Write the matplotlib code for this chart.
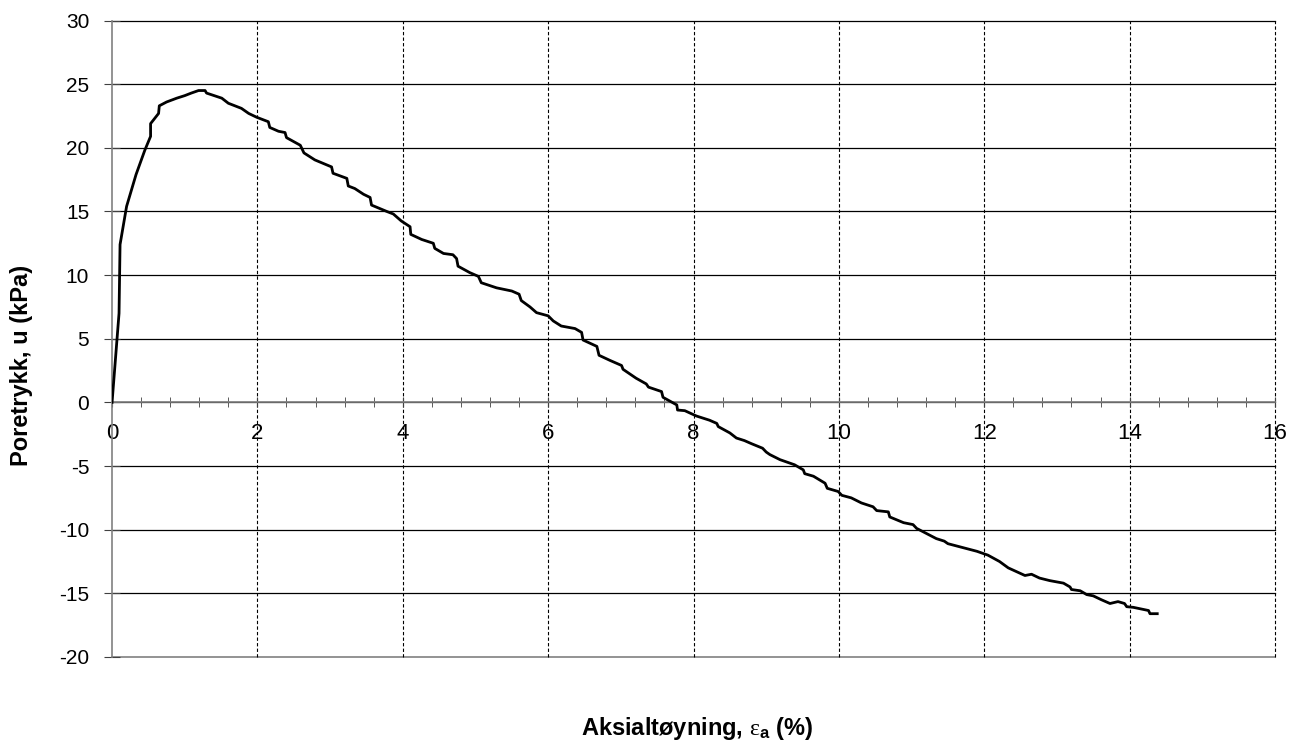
import numpy as np
import matplotlib

matplotlib.use("Agg")
import matplotlib.pyplot as plt
from matplotlib.ticker import MultipleLocator

plt.rcParams["font.family"] = ["Liberation Sans", "DejaVu Sans"]
plt.rcParams["mathtext.fontset"] = "custom"
plt.rcParams["mathtext.rm"] = "Liberation Serif"
plt.rcParams["mathtext.it"] = "Liberation Serif:italic"
plt.rcParams["mathtext.bf"] = "Liberation Sans:bold"
plt.rcParams["axes.unicode_minus"] = False

# axial strain (%) and pore pressure (kPa)
strain = [0.0, 0.096, 0.11, 0.20, 0.33, 0.45, 0.53, 0.53, 0.64, 0.65, 0.75,
          0.89, 1.0, 1.09, 1.19, 1.28, 1.30, 1.51, 1.60, 1.78, 1.88, 1.99,
          2.15, 2.17, 2.29, 2.38, 2.40, 2.59, 2.64, 2.79, 3.02, 3.04, 3.23,
          3.25, 3.34, 3.46, 3.55, 3.57, 3.78, 3.87, 3.98, 4.10, 4.11, 4.26,
          4.42, 4.44, 4.56, 4.69, 4.74, 4.76, 4.92, 5.04, 5.08, 5.29, 5.50,
          5.60, 5.63, 5.75, 5.84, 6.0, 6.07, 6.18, 6.37, 6.46, 6.48, 6.67,
          6.70, 6.85, 7.01, 7.03, 7.21, 7.35, 7.38, 7.56, 7.58, 7.77, 7.78,
          7.88, 8.04, 8.22, 8.32, 8.34, 8.50, 8.59, 8.70, 8.80, 8.95, 9.0,
          9.05, 9.19, 9.39, 9.51, 9.53, 9.65, 9.81, 9.84, 9.99, 10.04, 10.17,
          10.31, 10.47, 10.52, 10.68, 10.70, 10.89, 11.02, 11.07, 11.34,
          11.45, 11.5, 11.7, 11.9, 12.05, 12.21, 12.33, 12.56, 12.65, 12.76,
          12.90, 13.09, 13.18, 13.20, 13.32, 13.41, 13.50, 13.61, 13.73,
          13.84, 13.93, 13.96, 14.05, 14.26, 14.28, 14.38]
pore = [0.0, 7.0, 12.4, 15.4, 17.9, 19.8, 20.9, 21.9, 22.7, 23.3, 23.6,
        23.9, 24.1, 24.3, 24.5, 24.5, 24.3, 23.9, 23.5, 23.1, 22.7, 22.4,
        22.05, 21.6, 21.3, 21.2, 20.8, 20.2, 19.6, 19.05, 18.5, 18.0, 17.6,
        17.0, 16.8, 16.35, 16.1, 15.5, 15.0, 14.8, 14.25, 13.8, 13.2, 12.8,
        12.5, 12.1, 11.7, 11.6, 11.3, 10.7, 10.2, 9.9, 9.4, 9.0, 8.75,
        8.5, 8.0, 7.5, 7.05, 6.8, 6.4, 6.0, 5.8, 5.5, 4.9, 4.4,
        3.7, 3.3, 2.9, 2.6, 1.9, 1.45, 1.2, 0.85, 0.4, -0.2, -0.6,
        -0.65, -1.07, -1.4, -1.65, -1.9, -2.4, -2.8, -3.0, -3.25, -3.6, -3.9,
        -4.1, -4.5, -4.9, -5.3, -5.6, -5.8, -6.35, -6.75, -7.0, -7.3, -7.5,
        -7.9, -8.2, -8.5, -8.6, -9.0, -9.45, -9.6, -9.9, -10.7,
        -10.9, -11.1, -11.4, -11.7, -12.0, -12.5, -13.0, -13.6, -13.5, -13.8,
        -14.0, -14.2, -14.5, -14.7, -14.8, -15.1, -15.2, -15.5, -15.8,
        -15.65, -15.8, -16.05, -16.1, -16.35, -16.6, -16.6]

x_lim = (0, 16)
y_lim = (-20, 30)

fig = plt.figure(figsize=(12.91, 7.41), dpi=100)
ax = fig.add_axes([0.0868, 0.1134, 0.9008, 0.8589])

ax.set_xlim(*x_lim)
ax.set_ylim(*y_lim)

# grid: solid horizontal, dashed vertical
for yv in np.arange(-15, 31, 5):
    ax.axhline(yv, color="black", lw=0.9, zorder=1, clip_on=False)
ax.axhline(-20, color="#808080", lw=1.2, zorder=1, clip_on=False)
for xv in np.arange(2, 17, 2):
    ax.axvline(xv, color="black", lw=0.8, ls=(0, (3, 2)), zorder=1,
               clip_on=False)

ax.plot(strain, pore, color="black", lw=2, zorder=3)

for s in ("top", "right"):
    ax.spines[s].set_visible(False)
ax.spines["bottom"].set_position(("data", 0))
ax.spines["bottom"].set_color("#808080")
ax.spines["left"].set_color("#808080")
ax.spines["bottom"].set_linewidth(1.2)
ax.spines["left"].set_linewidth(1.2)

ax.xaxis.set_major_locator(MultipleLocator(2))
ax.xaxis.set_minor_locator(MultipleLocator(0.4))
ax.yaxis.set_major_locator(MultipleLocator(5))
ax.tick_params(axis="x", which="both", direction="inout", length=7.5,
               color="#404040", labelsize=16, pad=11)
ax.tick_params(axis="y", direction="inout", length=11, color="#404040",
               labelsize=15, pad=11)

fig.text(22 / 1291, 1 - 365 / 741, "Poretrykk, u (kPa)", rotation=90,
         fontsize=17, fontweight="bold", ha="center", va="center")
fig.text(697 / 1291, 1 - 728 / 741,
         r"Aksialtøyning, $\mathrm{\varepsilon}_\mathbf{a}$ (%)",
         fontsize=17, fontweight="bold", ha="center", va="center")

fig.savefig("out.png", dpi=100)
